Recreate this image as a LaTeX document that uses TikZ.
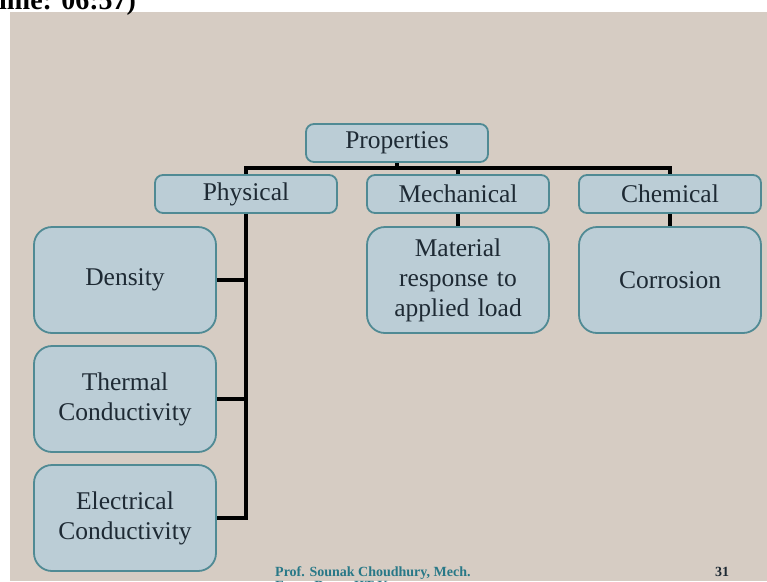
\documentclass[tikz,border=0pt]{standalone}
\usepackage{fontspec}
\setmainfont{Liberation Serif}
\usetikzlibrary{calc}
\definecolor{slidebg}{RGB}{214,204,195}
\definecolor{boxfill}{RGB}{187,205,214}
\definecolor{boxline}{RGB}{80,138,148}
\definecolor{boxtext}{RGB}{30,42,52}
\definecolor{footteal}{RGB}{40,120,135}
\tikzset{
headbox/.style={draw=boxline, line width=1.8pt, fill=boxfill, rounded corners=8pt,
  minimum width=182pt, minimum height=38pt, inner sep=0pt, text=boxtext,
  font=\fontsize{25.5}{30}\selectfont},
itembox/.style={headbox, rounded corners=18pt, minimum height=106pt,
  align=center, text width=180pt},
link/.style={line width=3.5pt, black},
foot/.style={anchor=base west, inner sep=0pt, text=footteal,
  font=\bfseries\fontsize{14}{17}\selectfont},
}

\begin{document}
\begin{tikzpicture}[x=1pt, y=-1pt]
\useasboundingbox (0,0) rectangle (767,581);
\fill[slidebg] (10,12) rectangle (767,581);
\node[anchor=base west, inner sep=0pt, font=\bfseries\fontsize{28}{30}\selectfont] (clock) at (-1,9) {ime: 06:57)};

\node[headbox] (prop) at (397,143) {Properties};
\node[headbox] (phys) at (246,194) {Physical};
\node[headbox] (mech) at (458,194) {Mechanical};
\node[headbox] (chem) at (670,194) {Chemical};

\node[itembox] (dens) at (125,280) {Density};
\node[itembox] (therm) at (125,399) {Thermal\\Conductivity};
\node[itembox] (elec) at (125,518) {Electrical\\Conductivity};
\node[itembox] (load) at (458,280) {Material\\response to\\applied load};
\node[itembox] (corr) at (670,280) {Corrosion};

\coordinate (bar) at (397,168);
\draw[link] (prop.south) -- (bar);
\draw[link] (phys.north) |- (bar) -| (chem.north);
\draw[link] (mech.north) -- (mech.north |- bar);
\draw[link] (phys.south) |- (elec.east);
\draw[link] (dens.east) -- (dens.east -| phys.south);
\draw[link] (therm.east) -- (therm.east -| phys.south);
\draw[link] (mech.south) -- (load.north);
\draw[link] (chem.south) -- (corr.north);

% footer
\node[foot] (author) at (275,576.5) {Prof. Sounak Choudhury, Mech.};
\node[foot] (dept) at (275,590.5) {Engg. Dept., IIT Kanpur};
\node[foot, anchor=base, text=boxtext] (page) at (722,576.5) {31};
\end{tikzpicture}
\end{document}
